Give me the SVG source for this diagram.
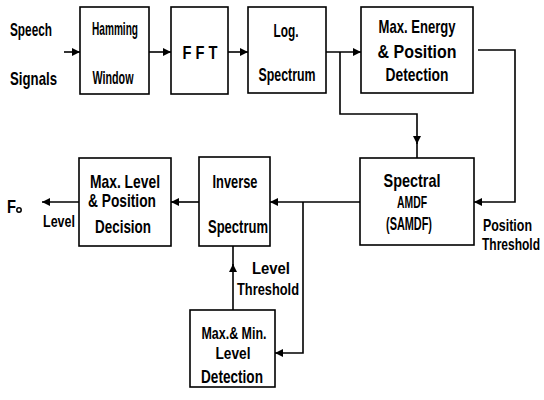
<svg xmlns="http://www.w3.org/2000/svg" width="544" height="400" viewBox="0 0 544 400">
<style>
.box{fill:#fff;stroke:#000;stroke-width:1.6}
.ln{fill:none;stroke:#000;stroke-width:1.6}
text{font-family:"Liberation Sans","DejaVu Sans",sans-serif;font-weight:bold;font-size:19px;fill:#000}
.c{text-anchor:middle}
.s{font-size:17px}
</style>
<defs>
<marker id="ah" viewBox="0 0 10 10" refX="10" refY="5" markerWidth="9" markerHeight="8" markerUnits="userSpaceOnUse" orient="auto">
<path d="M0,0 L10,5 L0,10 z" fill="#000"/>
</marker>
</defs>
<rect width="544" height="400" fill="#fff"/>
<g id="connectors">
<line class="ln" x1="64" y1="52" x2="80" y2="52" marker-end="url(#ah)"/>
<line class="ln" x1="149" y1="52" x2="171" y2="52" marker-end="url(#ah)"/>
<line class="ln" x1="228" y1="52" x2="248" y2="52" marker-end="url(#ah)"/>
<line class="ln" x1="326" y1="52" x2="361" y2="52" marker-end="url(#ah)"/>
<polyline class="ln" points="340,52 340,114 417,114 417,144" marker-end="url(#ah)"/>
<line class="ln" x1="417" y1="140" x2="417" y2="158"/>
<polyline class="ln" points="478,50 515,50 515,202 474,202" marker-end="url(#ah)"/>
<line class="ln" x1="360" y1="202" x2="270" y2="202" marker-end="url(#ah)"/>
<polyline class="ln" points="303,202 303,353 275,353" marker-end="url(#ah)"/>
<line class="ln" x1="233" y1="310" x2="233" y2="264" marker-end="url(#ah)"/>
<line class="ln" x1="233" y1="268" x2="233" y2="246"/>
<line class="ln" x1="199" y1="202" x2="171" y2="202" marker-end="url(#ah)"/>
<line class="ln" x1="79" y1="202" x2="42" y2="202" marker-end="url(#ah)"/>
</g>
<g id="input-label">
<text x="10" y="36" textLength="42" lengthAdjust="spacingAndGlyphs">Speech</text>
<text x="10" y="85" textLength="47" lengthAdjust="spacingAndGlyphs">Signals</text>
</g>
<g id="hamming">
<rect class="box" x="80" y="7" width="69" height="87"/>
<text class="c" x="115" y="35" textLength="46" lengthAdjust="spacingAndGlyphs">Hamming</text>
<text class="c" x="113" y="84" textLength="41" lengthAdjust="spacingAndGlyphs">Window</text>
</g>
<g id="fft">
<rect class="box" x="171" y="7" width="57" height="87"/>
<text class="c" x="200" y="59" textLength="35" lengthAdjust="spacingAndGlyphs">F F T</text>
</g>
<g id="log">
<rect class="box" x="248" y="7" width="78" height="86"/>
<text class="c" x="286" y="37" textLength="25" lengthAdjust="spacingAndGlyphs">Log.</text>
<text class="c" x="287" y="81" textLength="57" lengthAdjust="spacingAndGlyphs">Spectrum</text>
</g>
<g id="maxenergy">
<rect class="box" x="361" y="7" width="112" height="86"/>
<text class="c" x="417" y="33" textLength="77" lengthAdjust="spacingAndGlyphs">Max. Energy</text>
<text class="c" x="417" y="58" textLength="79" lengthAdjust="spacingAndGlyphs">&amp; Position</text>
<text class="c" x="417" y="81" textLength="63" lengthAdjust="spacingAndGlyphs">Detection</text>
</g>
<g id="samdf">
<rect class="box" x="360" y="158" width="114" height="87"/>
<text class="c" x="412" y="187" textLength="57" lengthAdjust="spacingAndGlyphs">Spectral</text>
<text class="c s" x="412" y="208" textLength="30" lengthAdjust="spacingAndGlyphs">AMDF</text>
<text class="c" x="409" y="230" textLength="46" lengthAdjust="spacingAndGlyphs">(SAMDF)</text>
</g>
<g id="position-threshold">
<text class="s" x="483" y="231" textLength="49" lengthAdjust="spacingAndGlyphs">Position</text>
<text class="s" x="482" y="250" textLength="58" lengthAdjust="spacingAndGlyphs">Threshold</text>
</g>
<g id="inverse">
<rect class="box" x="199" y="157" width="71" height="89"/>
<text class="c" x="235" y="188" textLength="45" lengthAdjust="spacingAndGlyphs">Inverse</text>
<text class="c" x="238" y="233" textLength="60" lengthAdjust="spacingAndGlyphs">Spectrum</text>
</g>
<g id="maxlevel">
<rect class="box" x="79" y="158" width="92" height="88"/>
<text class="c" x="125" y="188" textLength="70" lengthAdjust="spacingAndGlyphs">Max. Level</text>
<text class="c" x="122" y="207" textLength="68" lengthAdjust="spacingAndGlyphs">&amp; Position</text>
<text class="c" x="123" y="233" textLength="56" lengthAdjust="spacingAndGlyphs">Decision</text>
</g>
<g id="output-label">
<text x="7" y="213" font-size="20" textLength="9" lengthAdjust="spacingAndGlyphs">F</text>
<circle cx="19" cy="210" r="2.2" fill="none" stroke="#000" stroke-width="1.5"/>
<text class="s" x="43" y="227" textLength="32" lengthAdjust="spacingAndGlyphs">Level</text>
</g>
<g id="level-threshold">
<text class="s" x="252" y="274" textLength="38" lengthAdjust="spacingAndGlyphs">Level</text>
<text class="s" x="237" y="295" textLength="62" lengthAdjust="spacingAndGlyphs">Threshold</text>
</g>
<g id="maxmin">
<rect class="box" x="190" y="310" width="85" height="77"/>
<text class="c s" x="234" y="339" textLength="65" lengthAdjust="spacingAndGlyphs">Max.&amp; Min.</text>
<text class="c s" x="233" y="359" textLength="35" lengthAdjust="spacingAndGlyphs">Level</text>
<text class="c" x="232" y="383" textLength="62" lengthAdjust="spacingAndGlyphs">Detection</text>
</g>
</svg>
